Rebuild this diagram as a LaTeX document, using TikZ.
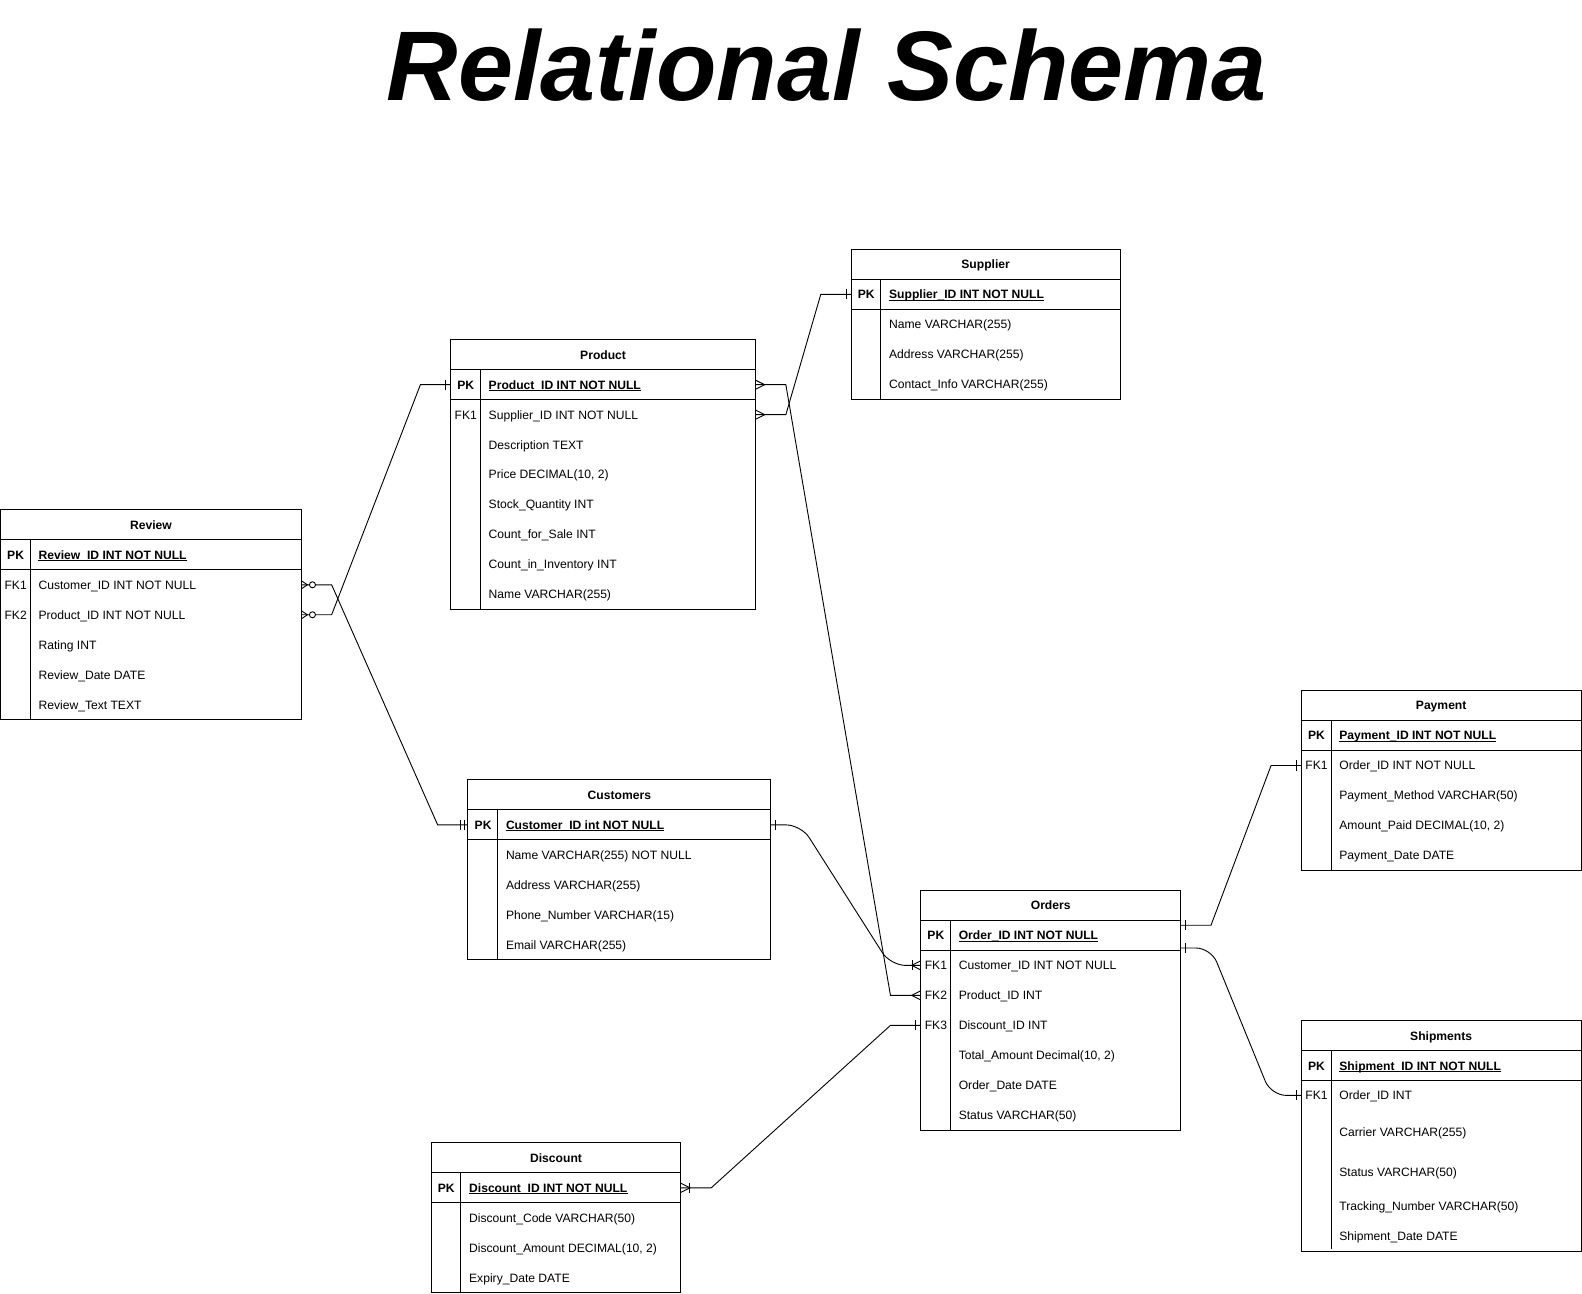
\documentclass[tikz,border=0pt]{standalone}
\usepackage{fontspec}
\setmainfont{Liberation Sans}
\def\rh{29.7}
\tikzset{
  tline/.style={line width=1pt, draw=black},
  conn/.style={line width=0.9pt, draw=black},
  tblbox/.style={draw=black, line width=1pt, inner sep=0pt, outer sep=0pt},
  hdr/.style={font=\fontsize{12}{14}\selectfont\bfseries, inner sep=0pt, anchor=base},
  keytxt/.style={font=\fontsize{12}{14}\selectfont, inner sep=0pt, anchor=base},
  pktxt/.style={keytxt, font=\fontsize{12}{14}\selectfont\bfseries},
  fieldtxt/.style={font=\fontsize{12}{14}\selectfont, inner sep=0pt, anchor=base west},
  pkfield/.style={fieldtxt, font=\fontsize{12}{14}\selectfont\bfseries},
  erone/.pic={\draw[conn] (5,-5) -- (5,5);},
  ermandone/.pic={\draw[conn] (3.5,-5) -- (3.5,5) (7.5,-5) -- (7.5,5);},
  ermany/.pic={\draw[conn] (0,-4.5) -- (9,0) -- (0,4.5);},
  eronetomany/.pic={\draw[conn] (0,-4.5) -- (9,0) -- (0,4.5); \draw[conn] (8.5,-5) -- (8.5,5);},
  erzeromany/.pic={\draw[conn] (0,-4) -- (6,0) -- (0,4); \draw[conn, fill=white] (11,0) circle (3);},
}
% #1 divider cut, #2 name, #3 left, #4 top, #5 width, #6 height, #7 title
\newcommand\erframe[7][0]{%
  \node[tblbox, minimum width=#5pt, minimum height=#6pt, anchor=north west] (#2) at (#3,#4) {};
  \node[hdr] (#2-title) at ({#3+#5/2},{#4+\rh/2+4.3}) {#7};
  \draw[tline] ({#3},{#4+\rh}) -- ({#3+#5},{#4+\rh});
  \draw[tline] ({#3},{#4+2*\rh}) -- ({#3+#5},{#4+2*\rh});
  \draw[tline] ({#3+29.5},{#4+\rh}) -- ({#3+29.5},{#4+#6-#1});
}
% name, left, center y, field
\newcommand\erpk[4]{%
  \node[pktxt] (#1-k) at ({#2+15},{#3+4.3}) {PK};
  \node[pkfield] (#1) at ({#2+37.5},{#3+4.3}) {#4};
  \draw[line width=0.9pt] ([yshift=-1.7pt]#1.base west) -- ([yshift=-1.7pt]#1.base east);
}
% name, left, center y, key, field
\newcommand\erow[5]{%
  \node[keytxt] (#1-k) at ({#2+15},{#3+4.3}) {#4};
  \node[fieldtxt] (#1) at ({#2+37.5},{#3+4.3}) {#5};
}
\begin{document}
\begin{tikzpicture}[x=1pt, y=-1pt]
\useasboundingbox (0,0) rectangle (1567,1281);

\node[font=\fontsize{98}{98}\selectfont\bfseries\itshape, anchor=base, inner sep=0pt] (title) at (819,100) {Relational Schema};

% ---------- Supplier
\erframe{supplier}{843}{247}{266.5}{148.5}{Supplier}
\erpk{suPK}{843}{247+1.5*\rh}{Supplier\_ID INT NOT NULL}
\erow{suR1}{843}{247+2.5*\rh}{}{Name VARCHAR(255)}
\erow{suR2}{843}{247+3.5*\rh}{}{Address VARCHAR(255)}
\erow{suR3}{843}{247+4.5*\rh}{}{Contact\_Info VARCHAR(255)}

% ---------- Product
\erframe{product}{446.4}{336.5}{302}{267.3}{Product}
\erpk{prPK}{446.4}{336.5+1.5*\rh}{Product\_ID INT NOT NULL}
\erow{prR1}{446.4}{336.5+2.5*\rh}{FK1}{Supplier\_ID INT NOT NULL}
\erow{prR2}{446.4}{336.5+3.5*\rh}{}{Description TEXT}
\erow{prR3}{446.4}{336.5+4.5*\rh}{}{Price DECIMAL(10, 2)}
\erow{prR4}{446.4}{336.5+5.5*\rh}{}{Stock\_Quantity INT}
\erow{prR5}{446.4}{336.5+6.5*\rh}{}{Count\_for\_Sale INT}
\erow{prR6}{446.4}{336.5+7.5*\rh}{}{Count\_in\_Inventory INT}
\erow{prR7}{446.4}{336.5+8.5*\rh}{}{Name VARCHAR(255)}

% ---------- Review
\erframe{review}{0.5}{505}{298}{207.9}{Review}
\erpk{rvPK}{0.5}{505+1.5*\rh}{Review\_ID INT NOT NULL}
\erow{rvR1}{0.5}{505+2.5*\rh}{FK1}{Customer\_ID INT NOT NULL}
\erow{rvR2}{0.5}{505+3.5*\rh}{FK2}{Product\_ID INT NOT NULL}
\erow{rvR3}{0.5}{505+4.5*\rh}{}{Rating INT}
\erow{rvR4}{0.5}{505+5.5*\rh}{}{Review\_Date DATE}
\erow{rvR5}{0.5}{505+6.5*\rh}{}{Review\_Text TEXT}

% ---------- Customers
\erframe{customers}{463.5}{772.5}{300}{178.2}{Customers}
\erpk{cuPK}{463.5}{772.5+1.5*\rh}{Customer\_ID int NOT NULL}
\erow{cuR1}{463.5}{772.5+2.5*\rh}{}{Name VARCHAR(255) NOT NULL}
\erow{cuR2}{463.5}{772.5+3.5*\rh}{}{Address VARCHAR(255)}
\erow{cuR3}{463.5}{772.5+4.5*\rh}{}{Phone\_Number VARCHAR(15)}
\erow{cuR4}{463.5}{772.5+5.5*\rh}{}{Email VARCHAR(255)}

% ---------- Orders
\erframe{orders}{912}{882}{257.5}{237.6}{Orders}
\erpk{orPK}{912}{882+1.5*\rh}{Order\_ID INT NOT NULL}
\erow{orR1}{912}{882+2.5*\rh}{FK1}{Customer\_ID INT NOT NULL}
\erow{orR2}{912}{882+3.5*\rh}{FK2}{Product\_ID INT}
\erow{orR3}{912}{882+4.5*\rh}{FK3}{Discount\_ID INT}
\erow{orR4}{912}{882+5.5*\rh}{}{Total\_Amount Decimal(10, 2)}
\erow{orR5}{912}{882+6.5*\rh}{}{Order\_Date DATE}
\erow{orR6}{912}{882+7.5*\rh}{}{Status VARCHAR(50)}

% ---------- Payment
\erframe{payment}{1289}{684}{277}{178.2}{Payment}
\erpk{paPK}{1289}{684+1.5*\rh}{Payment\_ID INT NOT NULL}
\erow{paR1}{1289}{684+2.5*\rh}{FK1}{Order\_ID INT NOT NULL}
\erow{paR2}{1289}{684+3.5*\rh}{}{Payment\_Method VARCHAR(50)}
\erow{paR3}{1289}{684+4.5*\rh}{}{Amount\_Paid DECIMAL(10, 2)}
\erow{paR4}{1289}{684+5.5*\rh}{}{Payment\_Date DATE}

% ---------- Shipments
\erframe[3]{shipments}{1289}{1011}{277}{229}{Shipments}
\erpk{shPK}{1289}{1011+1.5*\rh}{Shipment\_ID INT NOT NULL}
\erow{shR1}{1289}{1085}{FK1}{Order\_ID INT}
\erow{shR2}{1289}{1121}{}{Carrier VARCHAR(255)}
\erow{shR3}{1289}{1161}{}{Status VARCHAR(50)}
\erow{shR4}{1289}{1195}{}{Tracking\_Number VARCHAR(50)}
\erow{shR5}{1289}{1224.5}{}{Shipment\_Date DATE}

% ---------- Discount
\erframe{discount}{427}{1132}{247.5}{148.5}{Discount}
\erpk{diPK}{427}{1132+1.5*\rh}{Discount\_ID INT NOT NULL}
\erow{diR1}{427}{1132+2.5*\rh}{}{Discount\_Code VARCHAR(50)}
\erow{diR2}{427}{1132+3.5*\rh}{}{Discount\_Amount DECIMAL(10, 2)}
\erow{diR3}{427}{1132+4.5*\rh}{}{Expiry\_Date DATE}

% ---------- connection points
\coordinate (rvFK1r) at (298.5,{505+2.5*\rh});
\coordinate (rvFK2r) at (298.5,{505+3.5*\rh});
\coordinate (prPKl) at (446.4,{336.5+1.5*\rh});
\coordinate (prPKr) at (748.4,{336.5+1.5*\rh});
\coordinate (prFK1r) at (748.4,{336.5+2.5*\rh});
\coordinate (suPKl) at (843,{247+1.5*\rh});
\coordinate (cuPKl) at (463.5,{772.5+1.5*\rh});
\coordinate (cuPKr) at (763.5,{772.5+1.5*\rh});
\coordinate (orFK1l) at (912,{882+2.5*\rh});
\coordinate (orFK2l) at (912,{882+3.5*\rh});
\coordinate (orFK3l) at (912,{882+4.5*\rh});
\coordinate (orR1) at (1169.5,916.5);
\coordinate (orR2) at (1169.5,939);
\coordinate (diPKr) at (674.5,{1132+1.5*\rh});
\coordinate (paFK1l) at (1289,{684+2.5*\rh});
\coordinate (shFK1l) at (1289,1085);

% ---------- connectors
\draw[conn] (rvFK1r) -- ++(30,0) -- ([xshift=-30pt]cuPKl) -- (cuPKl);
\draw[conn] (rvFK2r) -- ++(30,0) -- ([xshift=-30pt]prPKl) -- (prPKl);
\draw[conn] (prFK1r) -- ++(30,0) -- ([xshift=-30pt]suPKl) -- (suPKl);
\draw[conn] (prPKr) -- ++(30,0) -- ([xshift=-30pt]orFK2l) -- (orFK2l);
\draw[conn, rounded corners=15pt] (cuPKr) -- ++(30,0) -- ([xshift=-30pt]orFK1l) -- (orFK1l);
\draw[conn] (orFK3l) -- ++(-30,0) -- ([xshift=30pt]diPKr) -- (diPKr);
\draw[conn] (orR1) -- ++(30,0) -- ([xshift=-30pt]paFK1l) -- (paFK1l);
\draw[conn, rounded corners=15pt] (orR2) -- ++(30,0) -- ([xshift=-30pt]shFK1l) -- (shFK1l);

% ---------- end markers
\pic at (rvFK1r) {erzeromany};
\pic at (rvFK2r) {erzeromany};
\pic[xscale=-1] at (cuPKl) {ermandone};
\pic[xscale=-1] at (prPKl) {erone};
\pic at (prFK1r) {ermany};
\pic[xscale=-1] at (suPKl) {erone};
\pic at (prPKr) {ermany};
\pic[xscale=-1] at (orFK2l) {ermany};
\pic at (cuPKr) {erone};
\pic[xscale=-1] at (orFK1l) {eronetomany};
\pic[xscale=-1] at (orFK3l) {erone};
\pic at (diPKr) {eronetomany};
\pic at (orR1) {erone};
\pic[xscale=-1] at (paFK1l) {erone};
\pic at (orR2) {erone};
\pic[xscale=-1] at (shFK1l) {erone};
\end{tikzpicture}
\end{document}
